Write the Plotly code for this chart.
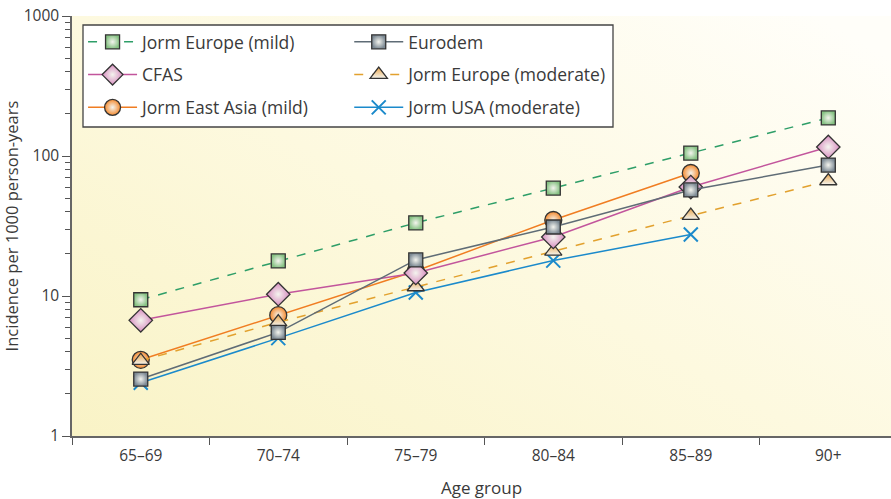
import base64
import plotly.graph_objects as go

# ---- data ----
age_groups = ["65–69", "70–74", "75–79", "80–84", "85–89", "90+"]
jorm_europe_mild = [9.4, 17.8, 33.3, 59, 105, 187]
cfas = [6.7, 10.3, 14.6, 26.4, 60, 116]
jorm_east_asia_mild = [3.5, 7.3, 15.1, 34.9, 75.6]
eurodem = [2.55, 5.5, 18.1, 31.1, 57.2, 86.2]
jorm_europe_moderate = [3.45, 6.5, 11.6, 20.8, 37.5, 66.3]
jorm_usa_moderate = [2.4, 5.0, 10.6, 17.9, 27.5]
y_tick_vals = [1, 10, 100, 1000]
y_tick_text = ["1", "10", "100", "1000"]

FONT = "Open Sans"
TXT = "#3a3a3a"

svg = (
    '<svg xmlns="http://www.w3.org/2000/svg" width="800" height="420" preserveAspectRatio="none">'
    '<defs><linearGradient id="g" x1="0" y1="1" x2="1" y2="0.1">'
    '<stop offset="0" stop-color="#F9F3C6"/>'
    '<stop offset="0.5" stop-color="#FDF9DF"/>'
    '<stop offset="1" stop-color="#FFFEF9"/>'
    '</linearGradient></defs>'
    '<rect width="800" height="420" fill="url(#g)"/></svg>'
)
bg_src = "data:image/svg+xml;base64," + base64.b64encode(svg.encode()).decode()

fig = go.Figure()

def add(name, y, color, dash, symbol, fill, size, legend, rank, grad="radial", lw=1.5):
    marker = dict(symbol=symbol, size=size, color=fill,
                  line=dict(color="#333333", width=1.3))
    if symbol.startswith("x"):
        marker = dict(symbol=symbol, size=size, color=color,
                      line=dict(color=color, width=2))
    else:
        marker["gradient"] = dict(type=grad, color="#F4F4EE")
    fig.add_trace(go.Scatter(
        x=age_groups[:len(y)], y=y, name=name, mode="lines+markers",
        line=dict(color=color, width=lw, dash=dash),
        marker=marker, legend=legend, legendrank=rank, legendgroup=name,
    ))

add("Jorm USA (moderate)", jorm_usa_moderate, "#1B8ACB", "solid", "x-thin", "#1B8ACB", 14, "legend2", 3)
add("Jorm East Asia (mild)", jorm_east_asia_mild, "#F07D22", "solid", "circle", "#F58A2E", 17, "legend", 3)
add("Jorm Europe (moderate)", jorm_europe_moderate, "#E2A12E", "dash", "triangle-up", "#E9A448", 15, "legend2", 2, grad="vertical")
add("CFAS", cfas, "#C2559C", "solid", "diamond", "#D88CC0", 18, "legend", 2)
add("Eurodem", eurodem, "#5F6C76", "solid", "square", "#7D8A94", 14, "legend2", 1)
add("Jorm Europe (mild)", jorm_europe_mild, "#2E9E68", "dash", "square", "#86C283", 14, "legend", 1)

fig.update_layout(
    width=891, height=499,
    margin=dict(l=72, r=0, t=16, b=63),
    paper_bgcolor="white",
    plot_bgcolor="rgba(0,0,0,0)",
    font=dict(family=FONT, color=TXT, size=15),
    images=[dict(source=bg_src, xref="paper", yref="paper", x=0, y=1,
                 sizex=1, sizey=1, sizing="stretch", layer="below")],
    xaxis=dict(
        type="category", categoryorder="array", categoryarray=age_groups,
        range=[-0.5, 5.456], tickson="boundaries", ticks="outside",
        ticklen=7, tickcolor="#555", tickwidth=1, automargin=False,
        ticklabelstandoff=5, ticklabeloverflow="allow",
        showline=True, linecolor="#666", linewidth=1.5, showgrid=False,
        zeroline=False, tickfont=dict(size=15.5, color=TXT, family=FONT),
        title=dict(text="Age group", font=dict(size=17, color=TXT, family=FONT), standoff=22),
    ),
    yaxis=dict(
        type="log", range=[0, 3], tickvals=y_tick_vals, ticktext=y_tick_text,
        ticks="outside", ticklen=8, tickcolor="#555", tickwidth=1, automargin=False,
        ticklabeloverflow="allow",
        minor=dict(ticks="outside", ticklen=5, tickcolor="#555", dtick="D1", showgrid=False),
        showline=True, linecolor="#666", linewidth=1.5, showgrid=False,
        zeroline=False, tickfont=dict(size=15.5, color=TXT, family=FONT),
        title=dict(text="Incidence per 1000 person-years", font=dict(size=16.5, color=TXT, family=FONT), standoff=2),
    ),
    legend=dict(x=0.0135, y=0.981, xanchor="left", yanchor="top",
                bgcolor="rgba(0,0,0,0)", borderwidth=0, itemwidth=49,
                tracegroupgap=7, font=dict(size=17.5, color=TXT, family=FONT)),
    legend2=dict(x=0.3385, y=0.981, xanchor="left", yanchor="top",
                 bgcolor="rgba(0,0,0,0)", borderwidth=0, itemwidth=49,
                 tracegroupgap=7, font=dict(size=17.5, color=TXT, family=FONT)),
    shapes=[dict(type="rect", xref="paper", yref="paper",
                 x0=(83 - 72) / 819, x1=(613 - 72) / 819,
                 y0=(436 - 127) / 420, y1=(436 - 25) / 420,
                 fillcolor="white", line=dict(color="#444", width=1.3), layer="below")],
)

fig.write_html(
    "out.html",
    config={"displayModeBar": False},
    post_script="document.body.style.margin='0';document.body.style.overflow='hidden';",
)
